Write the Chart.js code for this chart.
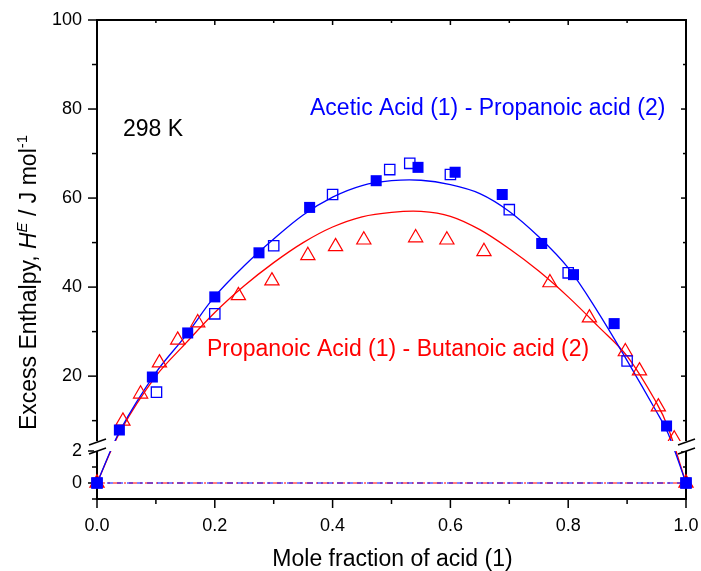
<!DOCTYPE html>
<html>
<head>
<meta charset="utf-8">
<script src="https://cdn.jsdelivr.net/npm/chart.js@4.4.0/dist/chart.umd.min.js"></script>
<style>
  html, body { margin: 0; padding: 0; background: #fff; }
  #wrap { width: 701px; height: 571px; }
</style>
</head>
<body>
<div id="wrap"><canvas id="heChart"></canvas></div>
<script>
// mole fraction of acid (1) / excess enthalpy in J mol-1
const acpFilledX = [0, 0.038, 0.094, 0.154, 0.200, 0.275, 0.361, 0.474, 0.545, 0.608, 0.688, 0.755, 0.809, 0.878, 0.967, 1.0];
const acpFilledY = [0, 7.9, 19.8, 29.7, 37.8, 47.7, 57.9, 63.9, 66.9, 65.8, 60.8, 49.8, 42.8, 31.8, 8.8, 0];

const acpOpenX = [0, 0.101, 0.200, 0.300, 0.400, 0.497, 0.531, 0.600, 0.700, 0.800, 0.900, 1.0];
const acpOpenY = [0, 16.4, 34.0, 49.3, 60.8, 66.4, 67.8, 65.3, 57.4, 43.2, 23.4, 0];

const pbTriX = [0, 0.044, 0.074, 0.106, 0.137, 0.171, 0.240, 0.297, 0.358, 0.405, 0.453, 0.541, 0.594, 0.657, 0.769, 0.836, 0.897, 0.921, 0.953, 0.980, 1.0];
const pbTriY = [0, 9.9, 16.0, 23.0, 28.1, 32.0, 38.1, 41.4, 47.1, 49.1, 50.6, 51.1, 50.6, 48.0, 41.0, 33.1, 25.5, 21.2, 13.1, 5.9, 0];

// fitted curves
const fitX = [0, 0.04, 0.1, 0.15, 0.2, 0.25, 0.3, 0.35, 0.4, 0.45, 0.5, 0.55, 0.6, 0.65, 0.7, 0.75, 0.8, 0.85, 0.9, 0.95, 0.97, 1];
const acpFitY = [0, 8.0, 20.8, 29.0, 37.9, 44.8, 50.8, 56.2, 60.2, 62.8, 63.9, 64.0, 63.0, 61.0, 57.0, 51.3, 44.3, 34.5, 23.5, 12.0, 7.0, 0];
const pbFitY = [0, 7.7, 20.0, 27.3, 34.3, 40.3, 45.5, 50.0, 53.5, 55.8, 56.8, 57.0, 55.9, 52.9, 48.6, 43.6, 37.8, 31.3, 24.5, 14.0, 8.3, 0];

// the flat lines at zero on the lower part of the axis
const zeroX = [0, 1];
const zeroY = [0, 0];

// ticks
const xMajor = [0, 0.2, 0.4, 0.6, 0.8, 1.0];
const xMinor = [0.1, 0.3, 0.5, 0.7, 0.9];
const yMajor = [0, 2, 20, 40, 60, 80, 100];
const yMinor = [-1, 1, 10, 30, 50, 70, 90];

// broken y axis: lower part -1..2, upper part 5.43..100
const LOW_MAX = 2, HIGH_MIN = 5.43;
const LOW_PX = 48, GAP_PX = 10;

const FONT = "'Liberation Sans', Arial, sans-serif";
const BLUE = '#0000ff';
const RED = '#ff0000';

function pts(xs, ys) {
  return xs.map((x, i) => ({ x: x, y: ys[i] }));
}

class BrokenLinearScale extends Chart.LinearScale {
  static id = 'brokenLinear';
  static defaults = Chart.LinearScale.defaults;

  getPixelForValue(v) {
    if (v === null || v === undefined) return NaN;
    const b = this.bottom, t = this.top;
    const lowTop = b - LOW_PX, highBot = lowTop - GAP_PX;
    if (v <= LOW_MAX) return b - (v - this.min) / (LOW_MAX - this.min) * LOW_PX;
    if (v <= HIGH_MIN) return lowTop - (v - LOW_MAX) / (HIGH_MIN - LOW_MAX) * GAP_PX;
    return highBot - (v - HIGH_MIN) / (this.max - HIGH_MIN) * (highBot - t);
  }

  getValueForPixel(p) {
    const b = this.bottom, t = this.top;
    const lowTop = b - LOW_PX, highBot = lowTop - GAP_PX;
    if (p >= lowTop) return this.min + (b - p) / LOW_PX * (LOW_MAX - this.min);
    if (p >= highBot) return LOW_MAX + (lowTop - p) / GAP_PX * (HIGH_MIN - LOW_MAX);
    return HIGH_MIN + (highBot - p) / (highBot - t) * (this.max - HIGH_MIN);
  }
}
Chart.register(BrokenLinearScale);

function line(ctx, x1, y1, x2, y2) {
  ctx.beginPath();
  ctx.moveTo(x1, y1);
  ctx.lineTo(x2, y2);
  ctx.stroke();
}

// no extra room for overhanging labels, layout padding alone fixes the plot area
function noPad(s) {
  s.paddingLeft = 0;
  s.paddingRight = 0;
  s.paddingTop = 0;
  s.paddingBottom = 0;
}

const framePlugin = {
  id: 'frame',
  beforeDatasetsDraw(chart) {
    const ctx = chart.ctx;
    const { left, right, top, bottom } = chart.chartArea;
    const xs = chart.scales.x, ys = chart.scales.y;
    ctx.save();
    ctx.strokeStyle = '#000';
    ctx.lineWidth = 2;
    ctx.beginPath();
    ctx.moveTo(left, top);
    ctx.lineTo(right, top);
    ctx.lineTo(right, bottom);
    ctx.lineTo(left, bottom);
    ctx.closePath();
    ctx.stroke();

    ctx.lineWidth = 1.5;
    yMajor.forEach((v) => {
      const p = ys.getPixelForValue(v);
      line(ctx, left - 9, p, left, p);
      line(ctx, right - 5, p, right, p);
    });
    yMinor.forEach((v) => {
      const p = ys.getPixelForValue(v);
      line(ctx, left - 5, p, left, p);
      line(ctx, right - 3, p, right, p);
    });
    xMajor.forEach((v) => {
      const p = xs.getPixelForValue(v);
      line(ctx, p, bottom, p, bottom + 9);
      line(ctx, p, top, p, top + 5);
    });
    xMinor.forEach((v) => {
      const p = xs.getPixelForValue(v);
      line(ctx, p, bottom, p, bottom + 5);
      line(ctx, p, top, p, top + 3);
    });
    ctx.restore();
  },
  afterDatasetsDraw(chart) {
    const ctx = chart.ctx;
    const { left, right, bottom } = chart.chartArea;
    const lowTop = bottom - LOW_PX, highBot = lowTop - GAP_PX;
    ctx.save();

    // gap between the two parts of the axis
    ctx.fillStyle = '#fff';
    ctx.fillRect(left - 3, highBot, right - left + 6, GAP_PX);
    ctx.strokeStyle = '#000';
    ctx.lineWidth = 1.5;
    [left, right].forEach((x) => {
      line(ctx, x - 8, highBot + 4, x + 9, highBot - 2);
      line(ctx, x - 8, lowTop + 3, x + 9, lowTop - 3);
    });

    // labels
    ctx.textBaseline = 'alphabetic';
    ctx.textAlign = 'left';
    ctx.font = '23px ' + FONT;
    ctx.fillStyle = '#000';
    ctx.fillText('298 K', 123, 136);
    ctx.fillStyle = BLUE;
    ctx.fillText('Acetic Acid (1) - Propanoic acid (2)', 310, 115);
    ctx.fillStyle = RED;
    ctx.fillText('Propanoic Acid (1) - Butanoic acid (2)', 207, 356);

    ctx.fillStyle = '#000';
    ctx.textAlign = 'center';
    ctx.fillText('Mole fraction of acid (1)', 392.5, 566);

    // y title with italic H and superscripts
    const parts = [
      { t: 'Excess Enthalpy, ', f: '23px ' + FONT, dy: 0 },
      { t: 'H', f: 'italic 23px ' + FONT, dy: 0 },
      { t: 'E', f: 'italic 15px ' + FONT, dy: -9 },
      { t: ' / J mol', f: '23px ' + FONT, dy: 0 },
      { t: '-1', f: '15px ' + FONT, dy: -9 }
    ];
    ctx.textAlign = 'left';
    let total = 0;
    parts.forEach((p) => { ctx.font = p.f; p.w = ctx.measureText(p.t).width; total += p.w; });
    ctx.translate(36, 282.5);
    ctx.rotate(-Math.PI / 2);
    let cx = -total / 2;
    parts.forEach((p) => {
      ctx.font = p.f;
      ctx.fillText(p.t, cx, p.dy);
      cx += p.w;
    });
    ctx.restore();
  }
};

const ctx = document.getElementById('heChart').getContext('2d');
const heChart = new Chart(ctx, {
  type: 'scatter',
  data: {
    datasets: [
      {
        label: 'Acetic - Propanoic (filled)',
        data: pts(acpFilledX, acpFilledY),
        pointStyle: 'rect',
        pointRadius: 7.8,
        backgroundColor: BLUE,
        borderColor: BLUE,
        borderWidth: 0,
        showLine: false,
        clip: false
      },
      {
        label: 'Acetic - Propanoic (open)',
        data: pts(acpOpenX, acpOpenY),
        pointStyle: 'rect',
        pointRadius: 7.3,
        backgroundColor: 'rgba(0,0,0,0)',
        borderColor: BLUE,
        borderWidth: 1.3,
        showLine: false,
        clip: false
      },
      {
        label: 'Propanoic - Butanoic',
        data: pts(pbTriX, pbTriY),
        pointStyle: 'triangle',
        pointRadius: 8.2,
        backgroundColor: 'rgba(0,0,0,0)',
        borderColor: RED,
        borderWidth: 1.2,
        showLine: false,
        clip: false
      },
      {
        label: 'Acetic - Propanoic fit',
        data: pts(fitX, acpFitY),
        showLine: true,
        borderColor: BLUE,
        borderWidth: 1.3,
        pointRadius: 0,
        tension: 0.35
      },
      {
        label: 'Propanoic - Butanoic fit',
        data: pts(fitX, pbFitY),
        showLine: true,
        borderColor: RED,
        borderWidth: 1.3,
        pointRadius: 0,
        tension: 0.35
      },
      {
        label: 'zero blue',
        data: pts(zeroX, zeroY),
        showLine: true,
        borderColor: BLUE,
        borderWidth: 1,
        borderDash: [6, 4],
        pointRadius: 0
      },
      {
        label: 'zero red',
        data: pts(zeroX, zeroY),
        showLine: true,
        borderColor: RED,
        borderWidth: 1,
        borderDash: [8, 3, 2, 3],
        pointRadius: 0
      }
    ]
  },
  options: {
    responsive: true,
    maintainAspectRatio: false,
    animation: false,
    events: [],
    layout: { padding: { top: 20, right: 15, left: 0, bottom: 0 } },
    plugins: {
      legend: { display: false },
      tooltip: { enabled: false }
    },
    scales: {
      x: {
        type: 'linear',
        min: 0,
        max: 1,
        grid: { display: false, drawTicks: false },
        border: { display: false },
        ticks: {
          padding: 16,
          color: '#000',
          font: { family: FONT, size: 18 },
          callback: (v) => Number(v).toFixed(1)
        },
        afterBuildTicks: (s) => { s.ticks = xMajor.map((v) => ({ value: v })); },
        afterFit: (s) => { s.height = 72; noPad(s); }
      },
      y: {
        type: 'brokenLinear',
        min: -1,
        max: 100,
        grid: { display: false, drawTicks: false },
        border: { display: false },
        ticks: {
          autoSkip: false,
          padding: 15,
          color: '#000',
          font: { family: FONT, size: 18 },
          callback: (v) => String(v)
        },
        afterBuildTicks: (s) => { s.ticks = yMajor.map((v) => ({ value: v })); },
        afterFit: (s) => { s.width = 97; noPad(s); }
      }
    }
  },
  plugins: [framePlugin]
});
</script>
</body>
</html>
